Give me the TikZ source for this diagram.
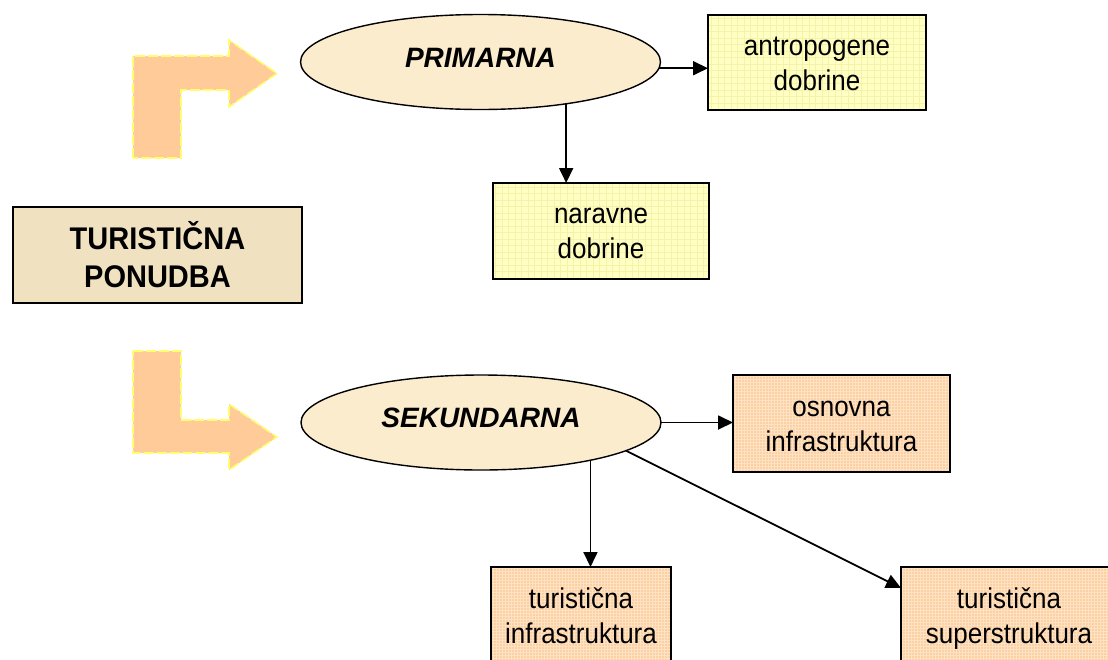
\documentclass[tikz,border=0pt]{standalone}
\usepackage{fontspec}
\usepackage{graphicx}
\setmainfont{Liberation Sans}
\usetikzlibrary{arrows.meta,calc,shapes.geometric}

\definecolor{bendfill}{RGB}{255,204,153}
\definecolor{benddash}{RGB}{255,255,110}
\definecolor{parch}{RGB}{240,225,192}
\definecolor{cream}{RGB}{251,236,205}
\definecolor{lemon}{RGB}{255,255,196}
\definecolor{lemongrid}{RGB}{245,242,170}
\definecolor{peach}{RGB}{251,209,164}
\definecolor{peachgrid}{RGB}{255,226,196}

% slightly tall lettering with a fixed line strut, for the boxes
\newcommand\talltext[1]{\rule[-6pt]{0pt}{32pt}\scalebox{1}[1.1]{#1}}
\newcommand\talltitle[1]{\rule[-2pt]{0pt}{30pt}\scalebox{1}[1.08]{#1}}

\tikzset{
  bentarrow/.style={fill=bendfill, draw=benddash, line width=1.6pt,
    dash pattern=on 10pt off 3pt, line join=miter},
  titlebox/.style={draw, line width=2pt, fill=parch, minimum width=289pt,
    minimum height=96pt, inner sep=0pt, outer sep=0pt, align=center,
    font=\fontsize{29}{38}\selectfont\bfseries},
  oval/.style={ellipse, draw, line width=1.4pt, fill=cream, minimum width=360pt,
    minimum height=95pt, inner sep=0pt, outer sep=0pt},
  ovaltext/.style={font=\fontsize{28}{34}\selectfont\bfseries\itshape},
  box/.style={draw, line width=2pt, minimum height=96pt, inner sep=0pt,
    outer sep=0pt, align=center, font=\fontsize{26}{35}\selectfont},
  yellowbox/.style={box, fill=lemon,
    path picture={\draw[lemongrid, line width=0.5pt, step=6.5pt]
      (path picture bounding box.south west) grid
      (path picture bounding box.north east);}},
  orangebox/.style={box, fill=peach,
    path picture={\draw[peachgrid, line width=0.6pt, step=3pt]
      (path picture bounding box.south west) grid
      (path picture bounding box.north east);}},
  conn/.style={line width=1.8pt, -{Triangle[length=15pt,width=14pt]}},
}

\begin{document}
\begin{tikzpicture}[x=1pt,y=-1pt]
\useasboundingbox (0,0) rectangle (1108,659);
\clip (0,0) rectangle (1108,659);

% bent arrows pointing to the two kinds of supply
\path[bentarrow] (133,158) -- (133,56) -- (229,56) -- (229,40) -- (277,73.5)
  -- (229,107) -- (229,90) -- (181,90) -- (181,158) -- cycle;
\path[bentarrow] (133,351) -- (181,351) -- (181,420) -- (229,420) -- (229,404)
  -- (277,437) -- (229,470) -- (229,453) -- (133,453) -- cycle;

% main heading
\node[titlebox] (ponudba) at (157.5,255)
  {\talltitle{TURISTIČNA}\\\talltitle{PONUDBA}};

% the two branches
\node[oval] (prim) at (480.5,62) {};
\node[ovaltext] (primtxt) at ([yshift=4.5pt]prim.center) {PRIMARNA};
\node[oval] (sek) at (481,422.5) {};
\node[ovaltext] (sektxt) at ([yshift=5pt]sek.center) {SEKUNDARNA};

% primary goods
\node[yellowbox, minimum width=218pt, minimum height=95pt] (antro) at (817,62.5)
  {\talltext{antropogene}\\\talltext{dobrine}};
\node[yellowbox, minimum width=216pt] (nar) at (601,231)
  {\talltext{naravne}\\\talltext{dobrine}};

% secondary goods
\node[orangebox, minimum width=217pt, minimum height=97pt] (osn) at (841.5,423.5)
  {\talltext{osnovna}\\\talltext{infrastruktura}};
\node[orangebox, minimum width=180pt, minimum height=97pt] (inf) at (581,615.5)
  {\talltext{turistična}\\\talltext{infrastruktura}};
\node[orangebox, minimum width=216pt, minimum height=97pt] (sup) at (1009,615.5)
  {\talltext{turistična}\\\talltext{superstruktura}};

% connectors
\draw[conn] (prim.-2.6) -- (prim.-2.6 -| antro.west);
\draw[conn] (prim.-26.4) -- (prim.-26.4 |- nar.north);
\draw[conn] (sek.east) -- (sek.east -| osn.west);
\draw[conn] (sek.-19.4) -- (sek.-19.4 |- inf.north);
\draw[conn] (sek.-11.7) -- ($(sup.north west)+(0,21)$);
\end{tikzpicture}
\end{document}
